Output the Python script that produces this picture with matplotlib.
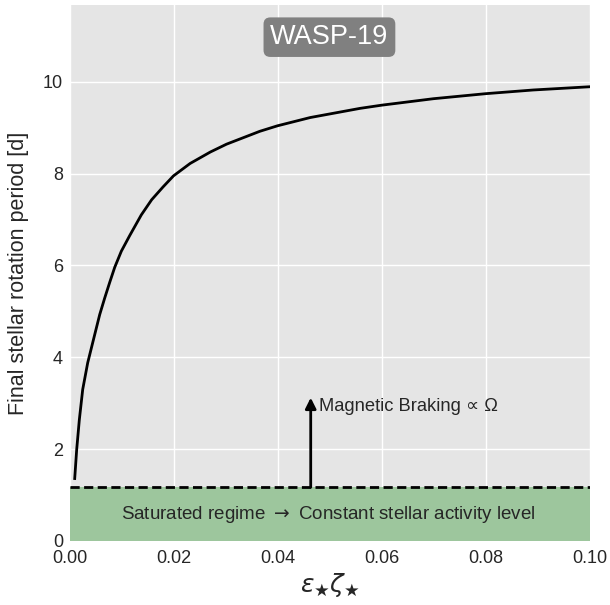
import matplotlib
matplotlib.use("Agg")
import matplotlib.pyplot as plt

# Data
eps_zeta = [0.0009, 0.00128, 0.00179, 0.00244, 0.0034, 0.00474, 0.00571, 0.00667,
            0.00763, 0.0086, 0.00987, 0.01148, 0.01371, 0.0157, 0.0179, 0.0199,
            0.0231, 0.0270, 0.0301, 0.0365, 0.0399, 0.0462, 0.0558, 0.0600,
            0.0699, 0.0800, 0.0891, 0.0999]
period = [1.36, 1.99, 2.64, 3.30, 3.88, 4.49, 4.93, 5.29,
          5.63, 5.96, 6.31, 6.65, 7.10, 7.43, 7.71, 7.95,
          8.22, 8.47, 8.64, 8.92, 9.04, 9.22, 9.42, 9.49,
          9.63, 9.74, 9.82, 9.89]
saturation_period = 1.17
arrow_x = 0.0463
arrow_top = 3.12
x_ticks = [0.00, 0.02, 0.04, 0.06, 0.08, 0.10]
y_ticks = [0, 2, 4, 6, 8, 10]

plt.rcParams['font.family'] = ['Liberation Sans', 'DejaVu Sans']
plt.rcParams['mathtext.fontset'] = 'dejavusans'

fig = plt.figure(figsize=(6.1, 6.05), dpi=100)
ax = fig.add_axes([0.1148, 0.1058, 0.967 - 0.1148, 0.9917 - 0.1058])
ax.set_facecolor('#e5e5e5')
for s in ax.spines.values():
    s.set_visible(False)
ax.grid(True, color='white', lw=1.0)
ax.set_axisbelow(True)
ax.tick_params(length=0, labelsize=13, colors='#262626')
ax.tick_params(axis='x', pad=6.5)
ax.tick_params(axis='y', pad=5)

ax.axhspan(0, saturation_period, color='#9dc69d', zorder=1.5, lw=0)
ax.axhline(saturation_period, color='black', lw=2, dashes=(3.3, 1.6), zorder=3)
ax.plot(eps_zeta, period, color='black', lw=2, zorder=3, solid_joinstyle='round')

ax.annotate('', xy=(arrow_x, arrow_top), xytext=(arrow_x, saturation_period),
            arrowprops=dict(arrowstyle='-|>', color='black', lw=2, mutation_scale=16,
                            shrinkA=0, shrinkB=0), zorder=4)
ax.text(0.0478, 2.93, 'Magnetic Braking \u221d \u03a9', fontsize=13.2, va='center',
        ha='left', color='#262626')
ax.text(0.0496, 0.58, 'Saturated regime $\\rightarrow$ Constant stellar activity level',
        fontsize=13.5, ha='center', va='center', color='#262626', zorder=4)
ax.text(0.0499, 10.97, 'WASP-19', fontsize=19.5, ha='center', va='center', color='white',
        bbox=dict(boxstyle='round,pad=0.25', fc='#808080', ec='none'), zorder=5)

ax.set_xlim(0, 0.1)
ax.set_ylim(0, 11.67)
ax.set_xticks(x_ticks)
ax.set_xticklabels([f'{t:.2f}' for t in x_ticks])
ax.set_yticks(y_ticks)
ax.set_ylabel('Final stellar rotation period [d]', fontsize=15.5, color='#262626', labelpad=10)
ax.set_xlabel(r'$\varepsilon_{\bigstar}\zeta_{\bigstar}$', fontsize=18, color='#262626', labelpad=3)

fig.savefig('out.png', dpi=100)
